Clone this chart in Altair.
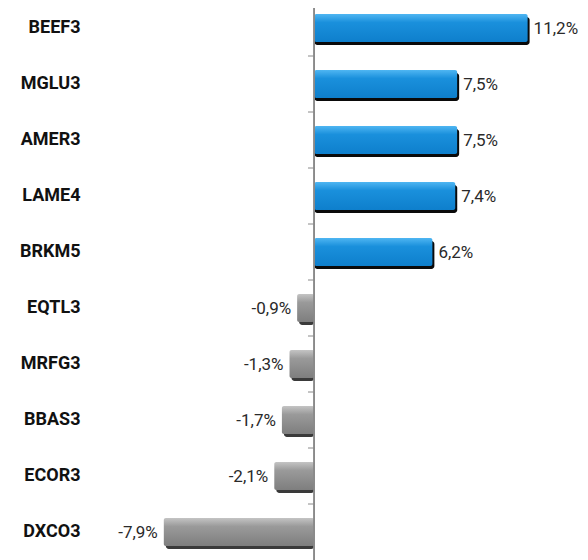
import altair as alt
import pandas as pd

tickers = ["BEEF3", "MGLU3", "AMER3", "LAME4", "BRKM5", "EQTL3", "MRFG3", "BBAS3", "ECOR3", "DXCO3"]
values = [11.2, 7.5, 7.5, 7.4, 6.2, -0.9, -1.3, -1.7, -2.1, -7.9]
labels = ["11,2%", "7,5%", "7,5%", "7,4%", "6,2%", "-0,9%", "-1,3%", "-1,7%", "-2,1%", "-7,9%"]

df = pd.DataFrame({"ticker": tickers, "value": values, "label": labels})

LABEL_FONT = "Roboto"
VALUE_FONT = "Roboto"

xs = alt.Scale(domain=[-10.2, 14.37], nice=False, zero=False)
x = alt.X("value:Q", scale=xs, axis=None)
xz = alt.X("z:Q", scale=xs, axis=None)
y_scale = alt.Scale(domain=tickers, paddingInner=0.5, paddingOuter=0.25)
y_plain = alt.Y("ticker:N", scale=y_scale, sort=tickers)

base = alt.Chart(df).transform_calculate(z="0", zt="-0.33")

shadow = base.mark_bar(xOffset=2, yOffset=3, cornerRadius=3).encode(
    x=x, x2="z:Q",
    y=alt.Y("ticker:N", scale=y_scale, sort=tickers, title=None,
            axis=alt.Axis(domain=False, ticks=False, labelFont=LABEL_FONT, labelFontSize=18,
                          labelFontWeight="bold", labelColor="#111", labelPadding=40)),
    color=alt.condition("datum.value > 0", alt.value("#0a0a0a"), alt.value("#3a3a3a")),
)

blue_grad = alt.Gradient(gradient="linear", x1=0, y1=0, x2=0, y2=1,
                         stops=[alt.GradientStop(color="#4fb6f2", offset=0),
                                alt.GradientStop(color="#1a90dc", offset=0.3),
                                alt.GradientStop(color="#0e7fcc", offset=1)])
gray_grad = alt.Gradient(gradient="linear", x1=0, y1=0, x2=0, y2=1,
                         stops=[alt.GradientStop(color="#c4c4c4", offset=0),
                                alt.GradientStop(color="#9a9a9a", offset=0.3),
                                alt.GradientStop(color="#7e7e7e", offset=1)])

pos = base.transform_filter("datum.value > 0").mark_bar(color=blue_grad, cornerRadius=2).encode(
    x=x, x2="z:Q", y=y_plain)
neg = base.transform_filter("datum.value < 0").mark_bar(color=gray_grad, cornerRadius=2).encode(
    x=x, x2="z:Q", y=y_plain)

zero = base.mark_rule(color="#8a8a8a", strokeWidth=1).encode(
    x=xz, y=alt.value(8), y2=alt.value(560))

ticks = base.transform_filter("datum.ticker != 'BEEF3'").mark_rule(
    color="#8a8a8a", strokeWidth=1, yOffset=-28).encode(
    x=xz, x2="zt:Q", y=y_plain)

txt_pos = base.transform_filter("datum.value > 0").mark_text(
    align="left", baseline="middle", dx=6, dy=1, font=VALUE_FONT, fontSize=17, color="#2a2a2a").encode(
    x=x, y=y_plain, text="label:N")
txt_neg = base.transform_filter("datum.value < 0").mark_text(
    align="right", baseline="middle", dx=-6, dy=1, font=VALUE_FONT, fontSize=17, color="#2a2a2a").encode(
    x=x, y=y_plain, text="label:N")

chart = alt.layer(shadow, pos, neg, zero, ticks, txt_pos, txt_neg).properties(
    width=468, height=560, autosize=alt.AutoSizeParams(type="none"),
    padding={"left": 120, "top": 0, "right": 0, "bottom": 0},
    background="white",
).configure_view(stroke=None)

chart.save("out.html", embed_options={"renderer": "svg", "actions": False})
